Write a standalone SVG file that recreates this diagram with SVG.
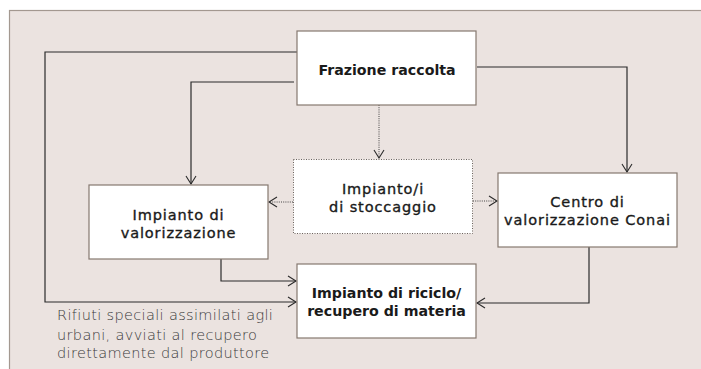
<svg xmlns="http://www.w3.org/2000/svg" width="701" height="369" viewBox="0 0 701 369">
<style>
.box{fill:#fff;stroke:#85786f;stroke-width:1.2}
.dbox{fill:#fff;stroke:#6a625d;stroke-width:1;stroke-dasharray:1 1.5}
.ln{fill:none;stroke:#2b2b2b;stroke-width:1.2}
.dl{fill:none;stroke:#444;stroke-width:1;stroke-dasharray:1 1.2}
.t{font-family:"DejaVu Sans","Open Sans",sans-serif;fill:#1a1a1a;text-anchor:middle}
.b{font-weight:700;font-size:14.2px}
.m{font-weight:400;font-size:14.5px;letter-spacing:0.9px;stroke:#1a1a1a;stroke-width:0.35}
.note{font-family:"DejaVu Sans","Open Sans",sans-serif;font-size:14.5px;font-weight:200;letter-spacing:0.35px;fill:#3a3a3a}
</style>
<defs>
<marker id="ah" markerUnits="userSpaceOnUse" markerWidth="12" markerHeight="14" refX="9" refY="6" orient="auto">
<path d="M1,1 L9,6 L1,11" fill="none" stroke="#2b2b2b" stroke-width="1.1"/>
</marker>
</defs>
<rect x="9.5" y="10.5" width="700" height="370" fill="#ebe3e0" stroke="#a39890" stroke-width="1.2"/>
<g id="connectors">
<path class="ln" d="M297,52 H45 V302 H296" marker-end="url(#ah)"/>
<path class="ln" d="M294,82 H191 V184" marker-end="url(#ah)"/>
<path class="ln" d="M477,67 H627 V172" marker-end="url(#ah)"/>
<path class="dl" d="M379,105 V158" marker-end="url(#ah)"/>
<path class="dl" d="M293,202 H269" marker-end="url(#ah)"/>
<path class="dl" d="M473,201 H497" marker-end="url(#ah)"/>
<path class="ln" d="M221,259 V281 H296" marker-end="url(#ah)"/>
<path class="ln" d="M589,247 V303 H477" marker-end="url(#ah)"/>
</g>
<g id="frazione">
<rect class="box" x="297" y="31" width="179" height="74"/>
<text class="t b" x="387" y="75">Frazione raccolta</text>
</g>
<g id="stoccaggio">
<rect class="dbox" x="293.5" y="159.5" width="179" height="74"/>
<text class="t m" x="383" y="194">Impianto/i</text>
<text class="t m" x="383" y="212">di stoccaggio</text>
</g>
<g id="valorizzazione">
<rect class="box" x="89" y="185" width="179" height="74"/>
<text class="t m" x="178.5" y="220">Impianto di</text>
<text class="t m" x="178.5" y="237.5">valorizzazione</text>
</g>
<g id="conai">
<rect class="box" x="498" y="173" width="179" height="74"/>
<text class="t m" x="587.5" y="207">Centro di</text>
<text class="t m" x="587.5" y="225">valorizzazione Conai</text>
</g>
<g id="riciclo">
<rect class="box" x="297" y="264" width="179" height="74"/>
<text class="t b" x="386.5" y="298">Impianto di riciclo/</text>
<text class="t b" x="386.5" y="315.5">recupero di materia</text>
</g>
<g id="note">
<text class="note" x="57" y="320">Rifiuti speciali assimilati agli</text>
<text class="note" x="57" y="339.5">urbani, avviati al recupero</text>
<text class="note" x="57" y="358">direttamente dal produttore</text>
</g>
</svg>
